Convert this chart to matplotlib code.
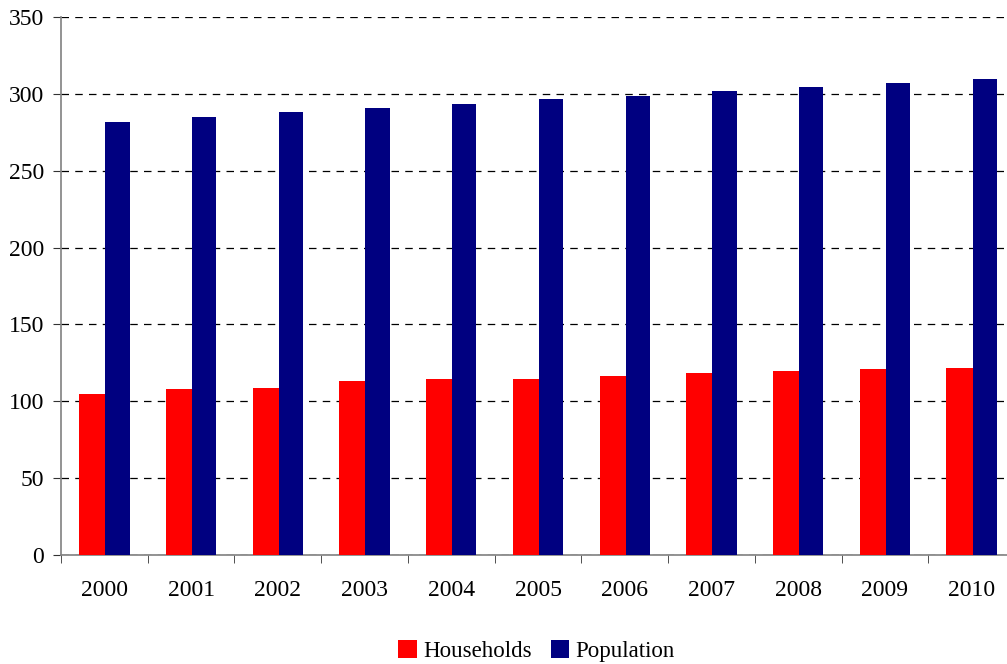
import numpy as np
import matplotlib.pyplot as plt

plt.rcParams['font.family'] = ['Liberation Serif', 'DejaVu Serif']

years = ['2000', '2001', '2002', '2003', '2004', '2005', '2006', '2007', '2008', '2009', '2010']
households = [104.5, 107.8, 108.4, 113.0, 114.3, 114.3, 116.2, 118.2, 119.5, 120.8, 121.4]
population = [281.8, 285.0, 288.3, 290.9, 293.5, 296.8, 298.7, 301.9, 304.5, 307.1, 309.7]

x = np.arange(len(years))
w = 0.3

fig = plt.figure(figsize=(10.07, 6.64), dpi=100)
# axes runs a little past the right edge, as in the reference
ax = fig.add_axes([61 / 1007, 109 / 664, 954 / 1007, 538 / 664])

ax.bar(x - w / 2 + 0.01, households, width=w, color='#ff0000', label='Households', zorder=3)
ax.bar(x + w / 2, population, width=w - 0.02, color='#000080', label='Population', zorder=3)

ax.set_ylim(0, 350)
ax.set_xlim(-0.5, len(years) - 0.5)
ax.set_yticks(np.arange(0, 351, 50))
ax.yaxis.grid(True, color='black', linestyle=(0, (6, 5)), linewidth=0.9, zorder=0)

ax.set_xticks(x)
ax.set_xticklabels(years)
ax.set_xticks(np.arange(-0.5, len(years) + 0.5, 1), minor=True)
ax.tick_params(axis='x', which='major', length=0, pad=18, labelsize=17)
ax.tick_params(axis='x', which='minor', length=6, direction='out', color='#333333')
ax.tick_params(axis='y', length=6, direction='out', labelsize=17, pad=6, color='#333333')

for s in ['top', 'right']:
    ax.spines[s].set_visible(False)
for s in ['left', 'bottom']:
    ax.spines[s].set_color('#808080')
    ax.spines[s].set_linewidth(1.2)

fig.legend(loc='lower center', bbox_to_anchor=(0.533, -0.028), ncol=2, frameon=False,
           fontsize=16.5, handlelength=0.8, handleheight=0.8, handletextpad=0.3, columnspacing=0.8)

fig.savefig('out.png', dpi=100)
